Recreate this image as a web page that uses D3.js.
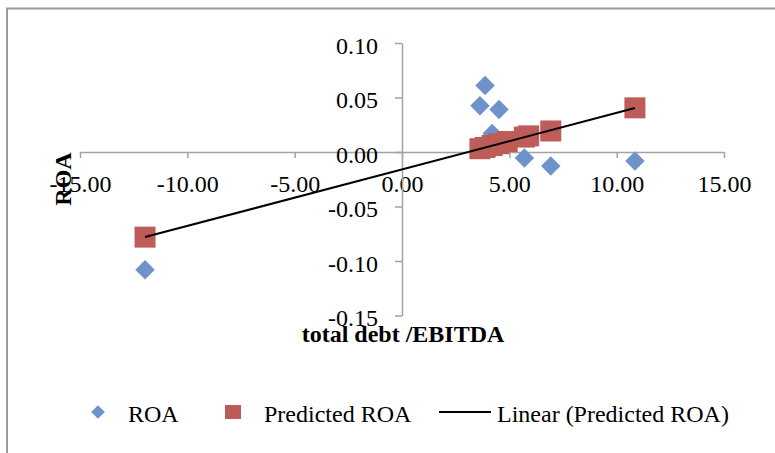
<!DOCTYPE html>
<html>
<head>
<meta charset="utf-8">
<script src="https://cdn.jsdelivr.net/npm/d3@7"></script>
<style>
  body { margin: 0; background: #fff; }
  text { font-family: "Liberation Serif", "Times New Roman", serif; fill: #000; }
</style>
</head>
<body>
<div id="chart"></div>
<script>
// chart data
const debtEbitda = [-11.97, 3.63, 3.87, 4.20, 4.52, 4.90, 5.70, 5.90, 6.93, 10.85];
const roa = [-0.108, 0.0425, 0.061, 0.017, 0.039, 0.0095, -0.0055, 0.0148, -0.0128, -0.0083];
const predictedRoa = [-0.0781, 0.0030, 0.0042, 0.0059, 0.0076, 0.0096, 0.0137, 0.0148, 0.0193, 0.0405];

const xTicks = [-15, -10, -5, 0, 5, 10, 15];
const xTickLabels = ["-15.00", "-10.00", "-5.00", "0.00", "5.00", "10.00", "15.00"];
const yTicks = [-0.15, -0.10, -0.05, 0, 0.05, 0.10];
const yTickLabels = ["-0.15", "-0.10", "-0.05", "0.00", "0.05", "0.10"];

const legendLabels = ["ROA", "Predicted ROA", "Linear (Predicted ROA)"];

const width = 775;
const height = 453;
const blue = "#6e93cc";
const red = "#bd5c58";
const axisGrey = "#a3a3a3";
const fontSize = "24px";

const svg = d3.select("#chart")
    .append("svg")
    .attr("width", width)
    .attr("height", height);

// outer chart frame (only left and top visible in the picture)
svg.append("path")
    .attr("d", "M7,453 V8.5 H775")
    .attr("fill", "none")
    .attr("stroke", "#9a9a9a")
    .attr("stroke-width", 2);

const x = d3.scaleLinear().domain([-15, 15]).range([80, 724]);
const y = d3.scaleLinear().domain([-0.15, 0.10]).range([315.5, 43]);

// x axis sits on y = 0
const xAxis = svg.append("g")
    .attr("transform", `translate(0,${y(0)})`)
    .call(d3.axisBottom(x)
        .tickValues(xTicks)
        .tickFormat((d, i) => xTickLabels[i])
        .tickSize(6)
        .tickSizeOuter(0)
        .tickPadding(16.5));

// y axis sits on x = 0
const yAxis = svg.append("g")
    .attr("transform", `translate(${x(0)},0)`)
    .call(d3.axisLeft(y)
        .tickValues(yTicks)
        .tickFormat((d, i) => yTickLabels[i])
        .tickSize(7)
        .tickSizeOuter(0)
        .tickPadding(17));

[xAxis, yAxis].forEach(g => {
    g.select(".domain").attr("stroke", axisGrey).attr("stroke-width", 1.5);
    g.selectAll(".tick line").attr("stroke", axisGrey).attr("stroke-width", 1.5);
    g.selectAll(".tick text")
        .style("font-family", "'Liberation Serif', 'Times New Roman', serif")
        .style("font-size", fontSize)
        .attr("fill", "#000");
});
yAxis.selectAll(".tick text").attr("dy", "0.42em");

// axis titles
svg.append("text")
    .attr("x", 403)
    .attr("y", 342)
    .attr("text-anchor", "middle")
    .style("font-size", fontSize)
    .style("font-weight", "bold")
    .text("total debt /EBITDA");

svg.append("text")
    .attr("transform", "translate(71,179) rotate(-90)")
    .attr("text-anchor", "middle")
    .style("font-size", fontSize)
    .style("font-weight", "bold")
    .text("ROA");

const points = debtEbitda.map((d, i) => ({ x: d, roa: roa[i], pred: predictedRoa[i] }));

const diamond = d3.symbol().type(d3.symbolDiamond2).size(242);

// ROA series
svg.append("g").selectAll("path")
    .data(points)
    .enter()
    .append("path")
    .attr("d", diamond)
    .attr("transform", d => `translate(${x(d.x)},${y(d.roa)})`)
    .attr("fill", blue);

// Predicted ROA series
const sq = 21;
svg.append("g").selectAll("rect")
    .data(points)
    .enter()
    .append("rect")
    .attr("x", d => x(d.x) - sq / 2)
    .attr("y", d => y(d.pred) - sq / 2)
    .attr("width", sq)
    .attr("height", sq)
    .attr("fill", red);

// linear trendline fitted on the predicted series (least squares)
const mx = d3.mean(points, d => d.x);
const my = d3.mean(points, d => d.pred);
const slope = d3.sum(points, d => (d.x - mx) * (d.pred - my)) / d3.sum(points, d => (d.x - mx) * (d.x - mx));
const intercept = my - slope * mx;
const xExt = d3.extent(points, d => d.x);

svg.append("path")
    .datum(xExt)
    .attr("d", d3.line().x(d => x(d)).y(d => y(intercept + slope * d)))
    .attr("fill", "none")
    .attr("stroke", "#000")
    .attr("stroke-width", 2);

// legend
const legend = svg.append("g");
legend.append("path")
    .attr("d", d3.symbol().type(d3.symbolDiamond2).size(120))
    .attr("transform", "translate(98,412)")
    .attr("fill", blue);
legend.append("rect")
    .attr("x", 225).attr("y", 405)
    .attr("width", 16).attr("height", 14)
    .attr("fill", red);
legend.append("line")
    .attr("x1", 439).attr("x2", 491)
    .attr("y1", 412).attr("y2", 412)
    .attr("stroke", "#000")
    .attr("stroke-width", 2);

const legendX = [128, 264, 497];
legend.selectAll("text")
    .data(legendLabels)
    .enter()
    .append("text")
    .attr("x", (d, i) => legendX[i])
    .attr("y", 422)
    .style("font-size", fontSize)
    .text(d => d);
</script>
</body>
</html>
